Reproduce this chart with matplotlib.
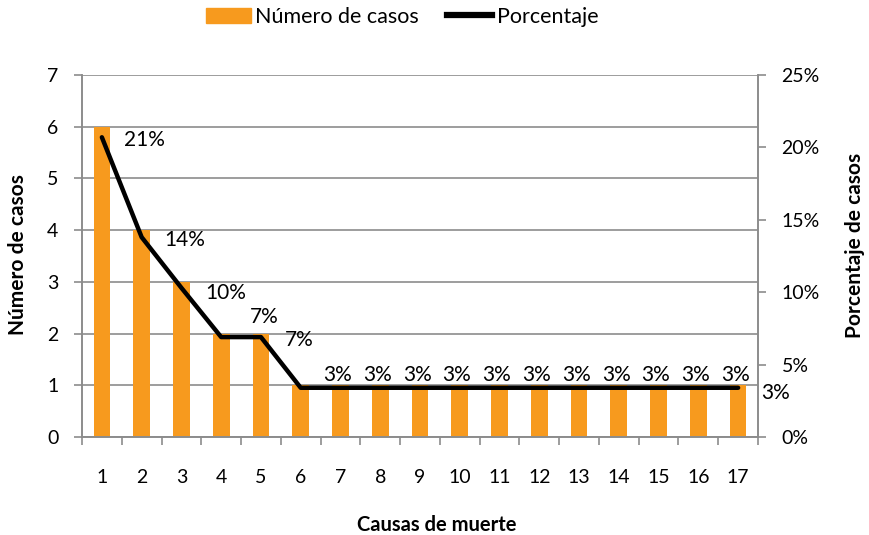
import numpy as np
import matplotlib
matplotlib.use("Agg")
from matplotlib import pyplot as plt
from matplotlib.lines import Line2D
from matplotlib.patches import Patch

# data
causas = list(range(1, 18))
casos = [6, 4, 3, 2, 2, 1, 1, 1, 1, 1, 1, 1, 1, 1, 1, 1, 1]
porcentaje = [20.7, 13.8, 10.3, 6.9, 6.9, 3.4, 3.4, 3.4, 3.4, 3.4, 3.4, 3.4, 3.4, 3.4, 3.4, 3.4, 3.4]
etiquetas = ["21%", "14%", "10%", "7%", "7%"] + ["3%"] * 12

# label offsets (in pixels) relative to each point, as placed in the original
offsets = [(43, -3), (43, -3), (44, -5), (43, 20), (38, -3)] + [(37, 13)] * 11 + [(37, -5)]

plt.rcParams["font.family"] = ["Lato", "DejaVu Sans"]
orange = "#F79A1E"
grey = "#8C8C8C"

fig = plt.figure(figsize=(8.70, 5.35), dpi=100)
ax = fig.add_axes([82 / 870, 1 - 437 / 535, 676 / 870, 362 / 535])
ax2 = ax.twinx()

ax.bar(causas, casos, width=0.42, color=orange, zorder=2)
ax.set_xlim(0.5, 17.5)
ax.set_ylim(0, 7)
ax.set_yticks(range(0, 8))
ax.yaxis.grid(True, color=grey, linewidth=1.2, zorder=0)
ax.set_axisbelow(True)
ax.set_xticks(causas)
ax.set_xticks(np.arange(0.5, 18, 1), minor=True)
ax.tick_params(axis="x", which="major", length=0, pad=23, labelsize=14)
ax.tick_params(axis="x", which="minor", length=6, color=grey, width=1.2)
ax.tick_params(axis="y", length=6, color=grey, width=1.2, pad=11, labelsize=14)

ax2.plot(causas, porcentaje, color="black", linewidth=3.2, solid_capstyle="round", zorder=3)
ax2.set_ylim(0, 25)
ax2.set_yticks(range(0, 30, 5))
ax2.set_yticklabels([f"{v}%" for v in range(0, 30, 5)])
ax2.tick_params(axis="y", length=6, color=grey, width=1.2, pad=11, labelsize=14)

for x, y, lab, (dx, dy) in zip(causas, porcentaje, etiquetas, offsets):
    ax2.annotate(lab, (x, y), xytext=(dx * 0.72, dy * 0.72), textcoords="offset points",
                 ha="center", va="center", fontsize=15)

for a in (ax, ax2):
    a.spines["top"].set_visible(False)
    for s in ("left", "right", "bottom"):
        a.spines[s].set_color(grey)
        a.spines[s].set_linewidth(1.2)

fig.text(18 / 870, 1 - 255 / 535, "Número de casos", rotation=90, ha="center", va="center",
         fontsize=15, fontweight="bold")
fig.text(855 / 870, 1 - 245 / 535, "Porcentaje de casos", rotation=90, ha="center", va="center",
         fontsize=15, fontweight="bold")
fig.text(437 / 870, 1 - 525 / 535, "Causas de muerte", ha="center", va="center",
         fontsize=14.5, fontweight="bold")

handles = [Patch(color=orange), Line2D([0], [0], color="black", linewidth=4.5)]
fig.legend(handles, ["Número de casos", "Porcentaje"], loc="center", bbox_to_anchor=(402 / 870, 1 - 17 / 535),
           ncol=2, frameon=False, fontsize=15.5, handlelength=2.1, handletextpad=0.2, columnspacing=1.3)

fig.savefig("out.png", dpi=100)
